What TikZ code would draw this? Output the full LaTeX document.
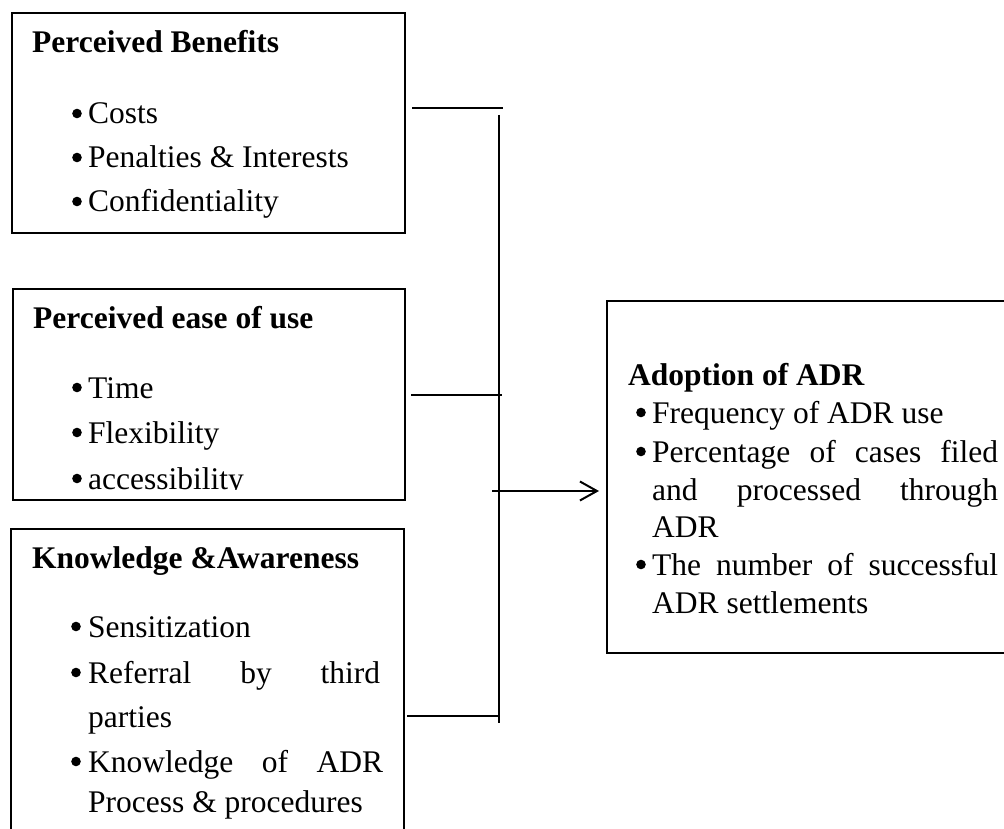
\documentclass[tikz,border=0pt]{standalone}
\usepackage{fontspec}
\setmainfont{Liberation Serif}
\usetikzlibrary{arrows.meta}
\newcommand\itembul[2]{\fill (#1,#2+10.5) circle (4.8);}
\begin{document}
\begin{tikzpicture}[x=1pt,y=1pt,
  box/.style={draw, line width=2.2pt, inner sep=0pt, anchor=north west},
  conn/.style={line width=1.1pt},
  ttl/.style={anchor=base west, inner sep=0pt, font=\fontsize{31.5}{38}\selectfont\bfseries},
  itm/.style={anchor=base west, inner sep=0pt, font=\fontsize{31.5}{38}\selectfont},
]
\useasboundingbox (0,0) rectangle (1004,-829);
\clip (0,0) rectangle (1004,-829);

% boxes
\node[box, minimum width=393pt, minimum height=220pt] (b1) at (11,-12) {};
\node[box, minimum width=392pt, minimum height=211pt] (b2) at (12,-288) {};
\node[box, minimum width=393pt, minimum height=330pt] (b3) at (10,-528) {};
\node[box, minimum width=420pt, minimum height=352pt] (adr) at (606,-300) {};

% box 1
\node[ttl] (t1) at (32,-53) {Perceived Benefits};
\itembul{77}{-124}\node[itm] (i11) at (88,-124) {Costs};
\itembul{77}{-168}\node[itm] (i12) at (88,-168) {Penalties \& Interests};
\itembul{77}{-212}\node[itm] (i13) at (88,-212) {Confidentiality};

% box 2
\begin{scope}
\clip (12,-288) rectangle (404,-489.5);
\node[ttl] (t2) at (33,-328) {Perceived ease of use};
\itembul{77}{-398}\node[itm] (i21) at (88,-398) {Time};
\itembul{77}{-443}\node[itm] (i22) at (88,-443) {Flexibility};
\itembul{77}{-489}\node[itm] (i23) at (88,-489) {accessibility};
\end{scope}

% box 3
\node[ttl] (t3) at (32,-568) {Knowledge \&Awareness};
\itembul{76}{-637}\node[itm] (i31) at (88,-637) {Sensitization};
\itembul{76}{-683}\node[itm] (i32) at (88,-683) {\hbox to 292pt{Referral\hfill by\hfill third}};
\node[itm] (i32b) at (88,-727) {parties};
\itembul{76}{-772}\node[itm] (i33) at (88,-772) {\hbox to 295pt{Knowledge\hfill of\hfill ADR}};
\node[itm] (i33b) at (88,-812) {Process \& procedures};

% ADR box
\node[ttl] (t4) at (628,-385) {Adoption of ADR};
\itembul{641}{-423}\node[itm] (i41) at (652,-423) {Frequency of ADR use};
\itembul{641}{-462}\node[itm] (i42) at (652,-462) {\hbox to 346pt{Percentage\hfill of\hfill cases\hfill filed}};
\node[itm] (i42b) at (652,-500) {\hbox to 346pt{and\hfill processed\hfill through}};
\node[itm] (i42c) at (652,-537) {ADR};
\itembul{641}{-575}\node[itm] (i43) at (652,-575) {\hbox to 346pt{The\hfill number\hfill of\hfill successful}};
\node[itm] (i43b) at (652,-613) {ADR settlements};

% connectors
\coordinate (h1s) at (412,-108); \coordinate (h1e) at (503,-108);
\coordinate (h2s) at (411,-395); \coordinate (h2e) at (502,-395);
\coordinate (h3s) at (407,-716); \coordinate (h3e) at (498,-716);
\coordinate (vt) at (499,-115); \coordinate (vb) at (499,-723);
\coordinate (a0) at (492,-491);
\draw[conn] (h1s) -- (h1e);
\draw[conn] (h2s) -- (h2e);
\draw[conn] (h3s) -- (h3e);
\draw[conn] (vt) -- (vb);
\draw[line width=2pt, shorten >=7pt, -{Straight Barb[length=17pt,width=19pt,line width=2pt]}] (a0) -- (a0 -| adr.west);
\end{tikzpicture}
\end{document}
